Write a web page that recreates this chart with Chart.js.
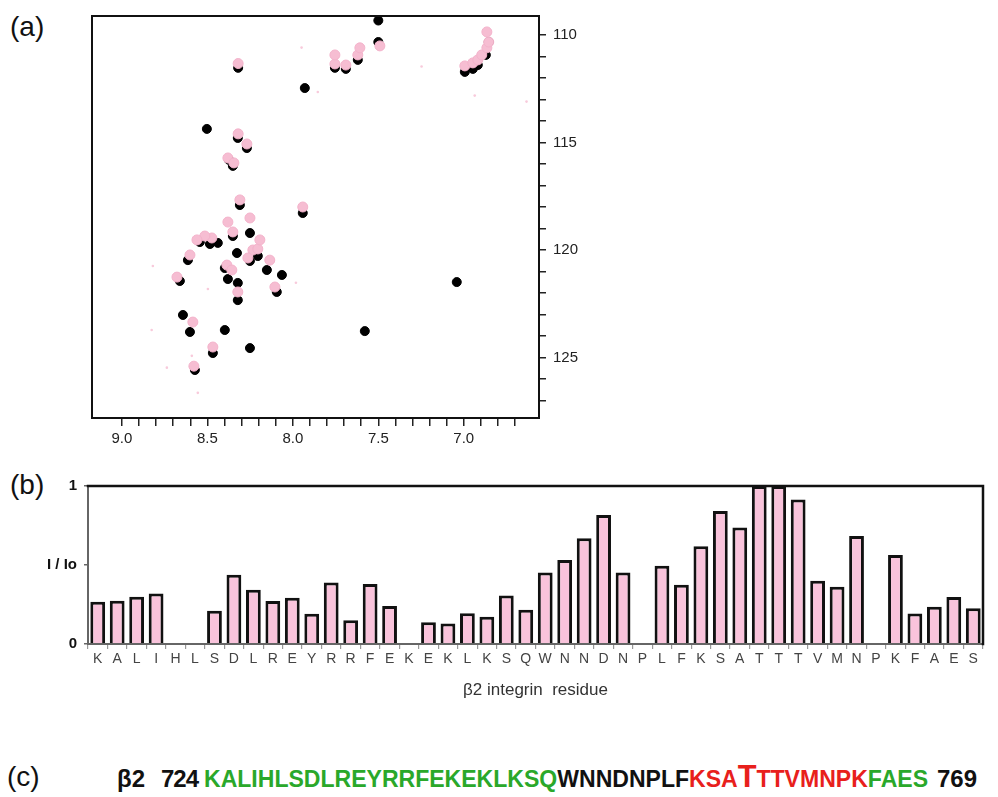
<!DOCTYPE html>
<html>
<head>
<meta charset="utf-8">
<script src="https://cdn.jsdelivr.net/npm/chart.js@4.4.1/dist/chart.umd.min.js"></script>
<style>
  body { margin: 0; background: #fff; width: 998px; height: 797px; position: relative; overflow: hidden;
         font-family: "Liberation Sans", Arial, sans-serif; }
  canvas { position: absolute; left: 0; }
  .tag { position: absolute; font-size: 28px; line-height: 28px; color: #111; }
  .seq { position: absolute; top: 767px; font-size: 24px; line-height: 24px; font-weight: bold; white-space: nowrap; color: #111; }
  .green { color: #2aa82a; }
  .red { color: #e8201c; }
  .bigT { font-size: 32px; line-height: 0; }
</style>
</head>
<body>
<div class="tag" style="left:10px; top:13px;">(a)</div>
<div class="tag" style="left:10px; top:471px;">(b)</div>
<div class="tag" style="left:7px; top:763px;">(c)</div>

<canvas id="nmrChart" width="640" height="450" style="top:0;"></canvas>
<canvas id="barChart" width="998" height="240" style="top:470px;"></canvas>

<div class="seq" style="left:117px;">β2</div>
<div class="seq" style="left:161px; letter-spacing:-1px;">724</div>
<div class="seq" id="seqText" style="left:204px; transform-origin:left center;"><span class="green">KALIHLSDLREYRRFEKEKLKSQ</span><span>WNNDNPLF</span><span class="red">KSA<span class="bigT">T</span>TTVMNPK</span><span class="green">FAES</span></div>
<div class="seq" style="left:937px;">769</div>

<script>
const fontFamily = '"Liberation Sans", Arial, sans-serif';

// (a) 1H-15N HSQC peaks, [1H ppm, 15N ppm]
const freePeaks = [
  [8.32, 111.53], [7.93, 112.47], [7.50, 109.33], [7.50, 110.33],
  [7.754, 111.53], [7.69, 111.58], [7.62, 111.16],
  [6.994, 111.72], [6.947, 111.58], [6.918, 111.40], [6.871, 110.93], [6.854, 110.33],
  [8.503, 114.37], [8.322, 114.79], [8.269, 115.26], [8.351, 116.09], [8.374, 115.81],
  [8.31, 117.91], [7.942, 118.28],
  [8.251, 119.21], [8.351, 119.35], [8.485, 119.72], [8.439, 119.67], [8.544, 119.63],
  [8.614, 120.47], [8.327, 120.14], [8.251, 120.51], [8.205, 120.28], [8.152, 120.93],
  [8.064, 121.16], [8.380, 121.35], [8.322, 121.53], [8.661, 121.44], [8.094, 121.95],
  [8.322, 122.33], [8.398, 120.84],
  [8.643, 123.02], [8.602, 123.81], [8.398, 123.72], [8.468, 124.79], [8.251, 124.56],
  [8.573, 125.58], [7.579, 123.77], [7.041, 121.49]
];
const boundPeaks = [
  [8.32, 111.33],
  [7.754, 111.35], [7.69, 111.40], [7.62, 110.93], [7.608, 110.60], [7.491, 110.51], [7.754, 110.93],
  [6.994, 111.44], [6.947, 111.30], [6.918, 111.16], [6.895, 110.93], [6.865, 110.60],
  [6.854, 110.33], [6.865, 109.86],
  [8.32, 114.60], [8.269, 115.07], [8.38, 115.72], [8.345, 115.95],
  [8.31, 117.67], [7.942, 118.0],
  [8.251, 118.51], [8.38, 118.70], [8.351, 119.16], [8.474, 119.44], [8.515, 119.35],
  [8.561, 119.53], [8.602, 120.23], [8.234, 120.0], [8.263, 120.37], [8.205, 119.95],
  [8.193, 119.53], [8.135, 120.47], [8.386, 120.70], [8.357, 120.93], [8.678, 121.26],
  [8.105, 121.72], [8.322, 121.95],
  [8.585, 123.35], [8.468, 124.51], [8.579, 125.40]
];
const noisePeaks = [
  [7.949, 110.59], [7.854, 112.65], [7.247, 111.47], [6.936, 112.82], [6.633, 113.10],
  [8.819, 120.74], [8.826, 123.72], [8.737, 125.47], [8.556, 126.64], [8.497, 121.81],
  [7.982, 121.52], [8.591, 124.92]
];
const hTicks = [6.7, 6.8, 6.9, 7.0, 7.1, 7.2, 7.3, 7.4, 7.5, 7.6, 7.7, 7.8, 7.9, 8.0,
                8.1, 8.2, 8.3, 8.4, 8.5, 8.6, 8.7, 8.8, 8.9, 9.0];
const nTicks = [110, 111, 112, 113, 114, 115, 116, 117, 118, 119, 120,
                121, 122, 123, 124, 125, 126, 127];
const hLabelled = [7.0, 7.5, 8.0, 8.5, 9.0];
const nLabelled = [110, 115, 120, 125];

// (b) relative intensities per residue, beta2 724-769
const residues = ['K','A','L','I','H','L','S','D','L','R','E','Y','R','R','F','E','K','E','K','L','K','S','Q',
                  'W','N','N','D','N','P','L','F','K','S','A','T','T','T','V','M','N','P','K','F','A','E','S'];
const intensity = [0.268, 0.274, 0.299, 0.320, null, null, 0.211, 0.439, 0.343, 0.272, 0.293, 0.191,
                   0.389, 0.151, 0.379, 0.241, null, 0.138, 0.130, 0.194, 0.172, 0.307, 0.216,
                   0.452, 0.531, 0.669, 0.816, 0.452, null, 0.496, 0.375, 0.619, 0.841, 0.737,
                   1.0, 1.0, 0.914, 0.400, 0.362, 0.684, null, 0.563, 0.193, 0.235, 0.297, 0.226];
const yTickLabels = { 0: '0', 0.5: 'I / Io', 1: '1' };

const toPts = arr => arr.map(([x, y]) => ({ x, y }));

const boxFrame = {
  id: 'boxFrame',
  afterDatasetsDraw(chart) {
    const { ctx, chartArea: { left, top, right, bottom } } = chart;
    ctx.save();
    ctx.strokeStyle = '#111';
    ctx.lineWidth = 2;
    ctx.strokeRect(left, top, right - left, bottom - top);
    ctx.restore();
  }
};

new Chart(document.getElementById('nmrChart'), {
  type: 'scatter',
  data: {
    datasets: [
      { data: toPts(boundPeaks), backgroundColor: '#f6bdd2', borderColor: '#f3b3cb', borderWidth: 1, pointRadius: 5, order: 0 },
      { data: toPts(freePeaks), backgroundColor: '#000', borderColor: '#000', borderWidth: 1, pointRadius: 4.5, order: 1 },
      { data: toPts(noisePeaks), backgroundColor: '#f8cadb', borderWidth: 0, pointRadius: 1.3, order: 2 }
    ]
  },
  options: {
    responsive: false,
    animation: false,
    layout: { padding: { left: 92, top: 16, right: 0, bottom: 0 } },
    plugins: { legend: { display: false }, tooltip: { enabled: false } },
    scales: {
      x: {
        type: 'linear', position: 'bottom', reverse: true, min: 6.56, max: 9.175,
        afterBuildTicks: s => { s.ticks = hTicks.map(v => ({ value: v })); },
        afterFit: s => { s.height = 32; },
        border: { display: false },
        grid: { drawOnChartArea: false, drawTicks: true, tickLength: 8, color: '#222', lineWidth: 1.5 },
        ticks: {
          autoSkip: false, maxRotation: 0, padding: 4, color: '#222',
          font: { size: 15, family: fontFamily },
          callback: v => hLabelled.some(t => Math.abs(t - v) < 1e-6) ? v.toFixed(1) : ''
        }
      },
      y: {
        type: 'linear', position: 'right', reverse: true, min: 109.12, max: 127.81,
        afterBuildTicks: s => { s.ticks = nTicks.map(v => ({ value: v })); },
        afterFit: s => { s.width = 101; },
        border: { display: false },
        grid: { drawOnChartArea: false, drawTicks: true, tickLength: 7, color: '#222', lineWidth: 1.5 },
        ticks: {
          autoSkip: false, padding: 7, color: '#222',
          font: { size: 15, family: fontFamily },
          callback: v => nLabelled.includes(v) ? String(v) : ''
        }
      }
    }
  },
  plugins: [boxFrame]
});

const barFrame = {
  id: 'barFrame',
  afterDatasetsDraw(chart) {
    const { ctx, chartArea: { left, top, right, bottom } } = chart;
    ctx.save();
    ctx.lineCap = 'square';
    ctx.strokeStyle = '#666';
    ctx.lineWidth = 2;
    ctx.beginPath();
    ctx.moveTo(left, top); ctx.lineTo(left, bottom); ctx.lineTo(right, bottom);
    ctx.stroke();
    ctx.strokeStyle = '#111';
    ctx.lineWidth = 2.5;
    ctx.beginPath();
    ctx.moveTo(left, top); ctx.lineTo(right, top); ctx.lineTo(right, bottom);
    ctx.stroke();
    ctx.restore();
  }
};

new Chart(document.getElementById('barChart'), {
  type: 'bar',
  data: {
    labels: residues,
    datasets: [{
      data: intensity,
      backgroundColor: '#f9c3db',
      borderColor: '#111',
      borderWidth: 3,
      barPercentage: 0.76,
      categoryPercentage: 1
    }]
  },
  options: {
    responsive: false,
    animation: false,
    layout: { padding: { left: 0, top: 14, right: 15, bottom: 0 } },
    plugins: { legend: { display: false }, tooltip: { enabled: false } },
    scales: {
      x: {
        afterFit: s => { s.height = 66; },
        border: { display: false },
        grid: { drawOnChartArea: false, drawTicks: true, tickLength: 5, color: '#999', lineWidth: 1.2 },
        ticks: { autoSkip: false, maxRotation: 0, padding: 2, color: '#444', font: { size: 14, family: fontFamily } },
        title: {
          display: true, text: 'β2 integrin  residue', color: '#333',
          font: { size: 17, family: fontFamily }, padding: { top: 0, bottom: 9 }
        }
      },
      y: {
        min: 0, max: 1,
        afterBuildTicks: s => { s.ticks = [0, 0.5, 1].map(v => ({ value: v })); },
        afterFit: s => { s.width = 88; },
        border: { display: false },
        grid: { drawOnChartArea: false, drawTicks: true, tickLength: 4, color: '#666', lineWidth: 1.5 },
        ticks: {
          padding: 7, color: '#111',
          font: { size: 15, weight: 'bold', family: fontFamily },
          callback: v => yTickLabels[v]
        }
      }
    }
  },
  plugins: [barFrame]
});

// stretch the sequence to the width it has in the figure
const seq = document.getElementById('seqText');
const seqWidth = seq.getBoundingClientRect().width;
seq.style.transform = 'scaleX(' + (724 / seqWidth) + ')';
</script>
</body>
</html>
